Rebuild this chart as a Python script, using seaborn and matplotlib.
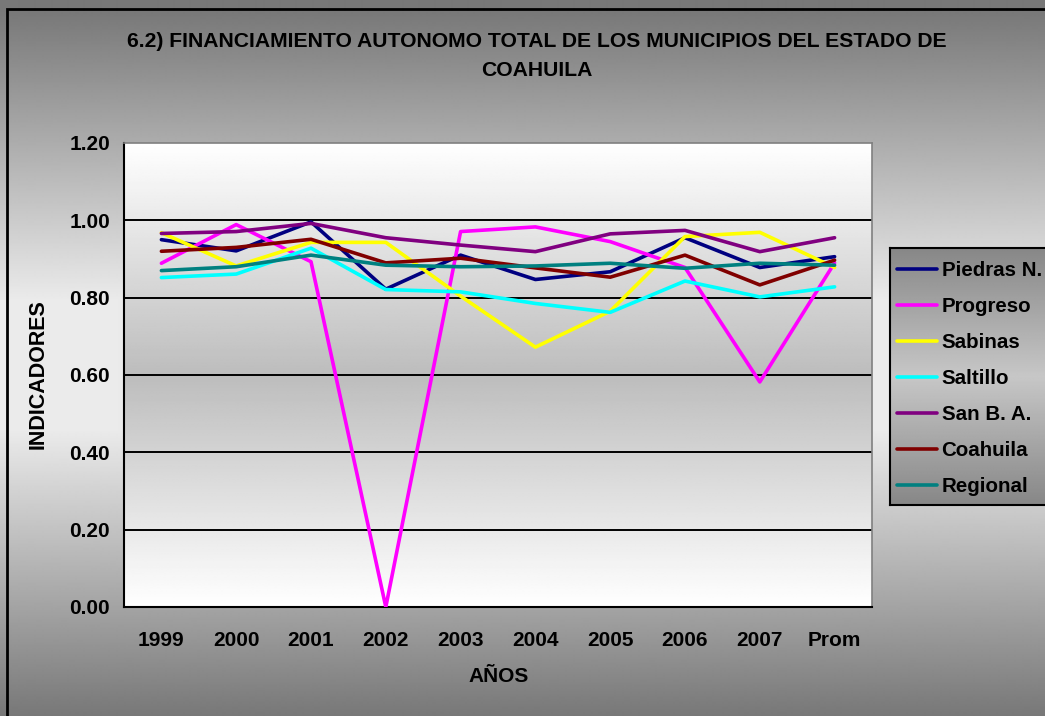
import numpy as np
import pandas as pd
import matplotlib
matplotlib.use("Agg")
import matplotlib.pyplot as plt
from matplotlib.patches import Rectangle
import seaborn as sns

# ---- data -------------------------------------------------------------
years = ["1999", "2000", "2001", "2002", "2003", "2004", "2005", "2006", "2007", "Prom"]
municipios = ["Piedras N.", "Progreso", "Sabinas", "Saltillo", "San B. A.", "Coahuila", "Regional"]

piedras = [0.950, 0.921, 0.996, 0.822, 0.910, 0.847, 0.867, 0.955, 0.878, 0.906]
progreso = [0.889, 0.989, 0.893, 0.000, 0.971, 0.983, 0.945, 0.878, 0.582, 0.890]
sabinas = [0.968, 0.882, 0.943, 0.943, 0.804, 0.672, 0.765, 0.958, 0.969, 0.878]
saltillo = [0.852, 0.861, 0.928, 0.821, 0.815, 0.785, 0.762, 0.843, 0.802, 0.828]
san_ba = [0.966, 0.971, 0.992, 0.955, 0.936, 0.919, 0.965, 0.974, 0.919, 0.955]
coahuila = [0.920, 0.930, 0.951, 0.890, 0.902, 0.877, 0.853, 0.910, 0.833, 0.897]
regional = [0.870, 0.880, 0.910, 0.884, 0.880, 0.882, 0.889, 0.876, 0.889, 0.884]

colores = ["#000080", "#FF00FF", "#FFFF00", "#00FFFF", "#800080", "#800000", "#008080"]

series = [piedras, progreso, sabinas, saltillo, san_ba, coahuila, regional]
df = pd.concat(
    [pd.DataFrame({"pos": range(len(years)), "Año": years, "Indicador": vals, "Municipio": name})
     for name, vals in zip(municipios, series)],
    ignore_index=True,
)

# ---- figure -----------------------------------------------------------
sns.set_style("white")
plt.rcParams["font.family"] = ["Liberation Sans", "DejaVu Sans"]
plt.rcParams["font.weight"] = "bold"
plt.rcParams["text.color"] = "black"
plt.rcParams["xtick.color"] = "black"
plt.rcParams["ytick.color"] = "black"
plt.rcParams["axes.labelcolor"] = "black"

W, H = 1045, 716
fig = plt.figure(figsize=(W / 100, H / 100), dpi=100)

# chart-area background: vertical gray gradient, dark at edges, light in the middle
bg = fig.add_axes([0, 0, 1, 1], zorder=-10)
ypix = np.arange(H)
shade = np.interp(ypix, [10, 300, 430, 716], [0.47, 0.92, 0.92, 0.47])
bg.imshow(np.repeat(shade[:, None], 2, axis=1), cmap="gray", vmin=0, vmax=1,
          aspect="auto", extent=[0, 1, 0, 1], interpolation="bilinear")
bg.set_axis_off()
fig.patches.append(Rectangle((7 / W, -0.2), 1.5, 1.2 - 9 / H, transform=fig.transFigure,
                             fill=False, edgecolor="black", linewidth=2.0, zorder=5))

# plot area
ax = fig.add_axes([124 / W, 1 - 607 / H, (872 - 124) / W, (607 - 143) / H])
pshade = np.interp(np.linspace(0, 1, 300), [0, 0.5, 1], [1.0, 0.74, 1.0])
ax.imshow(np.repeat(pshade[:, None], 2, axis=1), cmap="gray", vmin=0, vmax=1,
          aspect="auto", extent=[0, 1, 0, 1], transform=ax.transAxes,
          interpolation="bilinear", zorder=0)

sns.lineplot(data=df, x="pos", y="Indicador", hue="Municipio", hue_order=municipios,
             palette=colores, linewidth=2.6, sort=False, ax=ax, zorder=3)

handles, labels = ax.get_legend_handles_labels()
if ax.get_legend() is not None:
    ax.get_legend().remove()

ax.set_xlim(-0.5, len(years) - 0.5)
ax.set_ylim(0, 1.2)
ax.set_yticks(np.arange(0, 1.21, 0.2))
ax.set_yticklabels([f"{v:.2f}" for v in np.arange(0, 1.21, 0.2)])
ax.set_xticks(range(len(years)))
ax.set_xticklabels(years)
ax.set_xticks(np.arange(-0.5, len(years), 1), minor=True)
ax.tick_params(axis="x", which="major", length=0, pad=17, labelsize=15)
ax.tick_params(axis="x", which="minor", length=6, width=1.5, direction="out", color="black")
ax.tick_params(axis="y", length=6, width=1.5, direction="out", color="black", pad=4, labelsize=15)
for lab in ax.get_xticklabels() + ax.get_yticklabels():
    lab.set_fontweight("bold")
    lab.set_color("black")

ax.grid(False)
for v in np.arange(0.2, 1.01, 0.2):
    ax.axhline(v, color="black", linewidth=1.4, zorder=1)
ax.spines["left"].set_color("black")
ax.spines["bottom"].set_color("black")
ax.spines["left"].set_linewidth(1.5)
ax.spines["bottom"].set_linewidth(1.5)
ax.spines["top"].set_color("#808080")
ax.spines["right"].set_color("#808080")
ax.spines["top"].set_linewidth(1.2)
ax.spines["right"].set_linewidth(1.2)
ax.set_xlabel("")
ax.set_ylabel("")

# titles
fig.text(537 / W, 1 - 56 / H,
         "6.2) FINANCIAMIENTO AUTONOMO TOTAL DE LOS MUNICIPIOS DEL ESTADO DE\nCOAHUILA",
         ha="center", va="center", fontsize=15.2, fontweight="bold", linespacing=1.65,
         color="black")
fig.text(38 / W, 1 - 374 / H, "INDICADORES", rotation=90, ha="center", va="center",
         fontsize=15.5, fontweight="bold", color="black")
fig.text(499 / W, 1 - 677 / H, "AÑOS", ha="center", va="center",
         fontsize=15, fontweight="bold", color="black")

# legend box with its own gradient
lax = fig.add_axes([890 / W, 1 - 505 / H, 200 / W, (505 - 248) / H], zorder=4)
lshade = np.interp(np.linspace(0, 1, 200), [0, 0.5, 1], [0.53, 0.78, 0.53])
lax.imshow(np.repeat(lshade[:, None], 2, axis=1), cmap="gray", vmin=0, vmax=1,
           aspect="auto", extent=[0, 1, 0, 1], interpolation="bilinear")
lax.set_xticks([])
lax.set_yticks([])
for s in lax.spines.values():
    s.set_color("black")
    s.set_linewidth(1.5)

leg = fig.legend(handles, labels, loc="upper left", bbox_to_anchor=(897 / W, 1 - 261 / H),
                 frameon=False, fontsize=14.8, handlelength=1.95, handletextpad=0.22,
                 labelspacing=0.83, borderpad=0, borderaxespad=0)
leg.set_zorder(6)
for t in leg.get_texts():
    t.set_fontweight("bold")
    t.set_color("black")
for l in leg.get_lines():
    l.set_linewidth(2.6)

fig.savefig("out.png", dpi=100)
